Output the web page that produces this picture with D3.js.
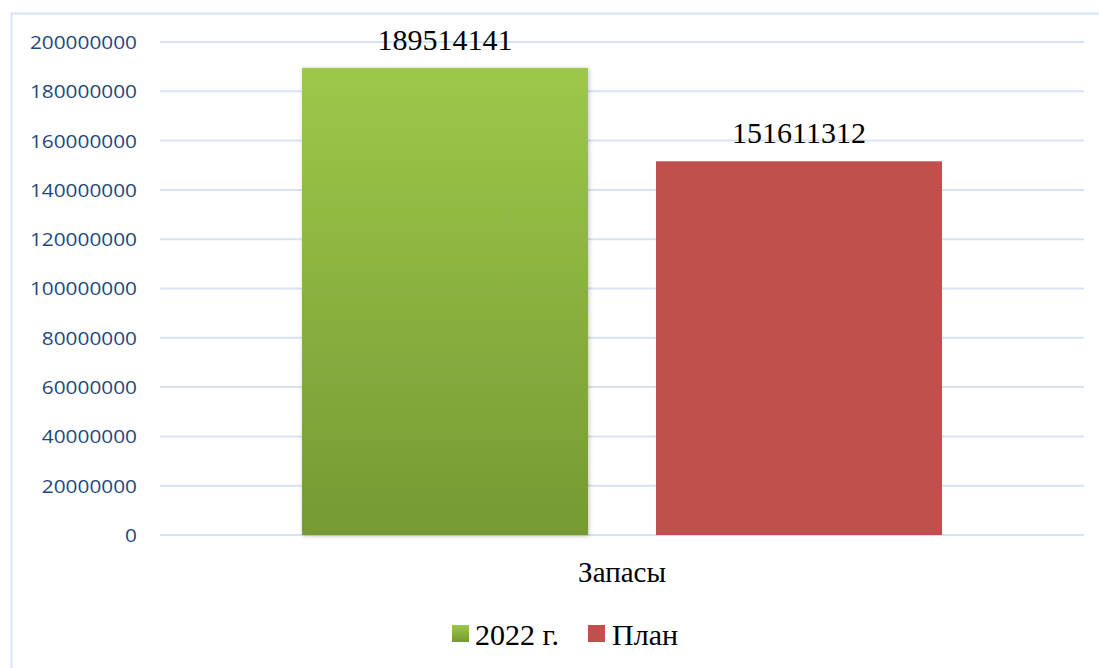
<!DOCTYPE html>
<html><head><meta charset="utf-8">
<script src="https://cdn.jsdelivr.net/npm/d3@7"></script>
<style>
body{margin:0;background:#fff}svg{display:block}
.serif{font-family:"Liberation Serif","Times New Roman",serif}
.ylab{font-family:"Open Sans","Liberation Sans",sans-serif}
</style>
</head><body>
<svg id="c" width="1099" height="668"></svg>
<script>
const categories = ["Запасы"];
const seriesNames = ["2022 г.", "План"];
const seriesValues = [189514141, 151611312];
const yTicks = [0, 20000000, 40000000, 60000000, 80000000, 100000000, 120000000, 140000000, 160000000, 180000000, 200000000];

(function(){
const svg = d3.select("#c");
const defs = svg.append("defs");
const g1 = defs.append("linearGradient").attr("id","gGreen").attr("x1",0).attr("y1",0).attr("x2",0).attr("y2",1);
g1.append("stop").attr("offset","0%").attr("stop-color","#9dc84a");
g1.append("stop").attr("offset","100%").attr("stop-color","#769933");
const f = defs.append("filter").attr("id","sh").attr("x","-10%").attr("y","-10%").attr("width","120%").attr("height","120%");
f.append("feDropShadow").attr("dx",1).attr("dy",1).attr("stdDeviation",2).attr("flood-color","#000").attr("flood-opacity",0.25);

svg.append("rect").attr("x",11.5).attr("y",13.5).attr("width",1100).attr("height",700)
  .attr("fill","none").attr("stroke","#d5e3f5").attr("stroke-width",2);

const mLeft = 160, mRight = 1084, mTop = 42, mBottom = 535;
const y = d3.scaleLinear().domain([0, 200000000]).range([mBottom, mTop]);
const x0 = d3.scaleBand().domain(categories).range([mLeft, mRight]);
const x1 = d3.scaleBand().domain(seriesNames).range([0, x0.bandwidth()]).paddingInner(0.192).paddingOuter(0.401);

svg.append("g").selectAll("line").data(yTicks).join("line")
  .attr("x1", mLeft).attr("x2", mRight)
  .attr("y1", d => y(d)).attr("y2", d => y(d))
  .attr("stroke","#d5e3f5").attr("stroke-width",2);

const yAxis = d3.axisLeft(y).tickValues(yTicks).tickFormat(d3.format("d")).tickSize(0).tickPadding(0);
const ya = svg.append("g").attr("transform", `translate(137,0)`).call(yAxis);
ya.select(".domain").remove();
ya.attr("font-family", null).attr("font-size", null);
ya.selectAll("text").attr("class","ylab").style("font-size","17.8px")
  .attr("fill","#1f497d").attr("dy","0.36em").attr("transform","scale(1.17,1)");

const colors = ["url(#gGreen)", "#c0504d"];
const cat = categories[0];
seriesNames.forEach((s,i) => {
  const bx = x0(cat) + x1(s);
  svg.append("rect").attr("x", bx).attr("y", y(seriesValues[i]))
    .attr("width", x1.bandwidth()).attr("height", y(0) - y(seriesValues[i]))
    .attr("fill", colors[i]).attr("filter", i===0 ? "url(#sh)" : null);
  svg.append("text").attr("class","serif").attr("x", bx + x1.bandwidth()/2).attr("y", y(seriesValues[i]) - 18)
    .attr("text-anchor","middle").style("font-size","30px").attr("fill","#000").text(d3.format("d")(seriesValues[i]));
});

svg.append("text").attr("class","serif").attr("x", x0(cat) + x0.bandwidth()/2).attr("y", 582)
  .attr("text-anchor","middle").style("font-size","29px").attr("fill","#000").text(cat);

const legend = [{x:452, tx:475}, {x:588, tx:612}];
seriesNames.forEach((s,i) => {
  svg.append("rect").attr("x", legend[i].x).attr("y", 625).attr("width",17).attr("height",17)
    .attr("fill", colors[i]);
  svg.append("text").attr("class","serif").attr("x", legend[i].tx).attr("y", 645)
    .style("font-size","30px").attr("fill","#000").text(s);
});
})();
</script>
</body></html>
